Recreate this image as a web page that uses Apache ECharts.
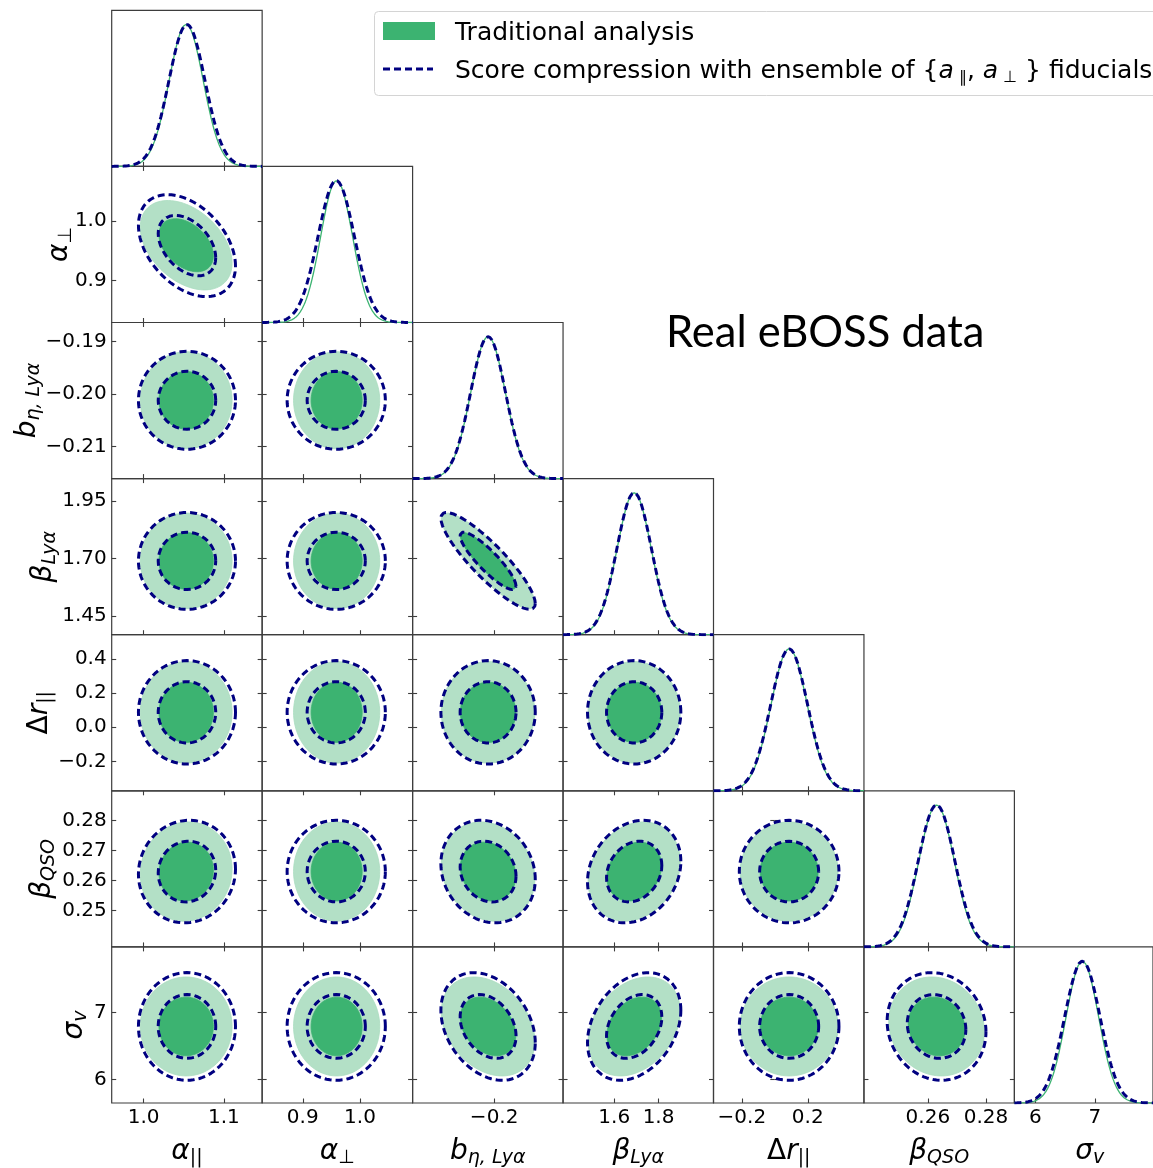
<!DOCTYPE html>
<html>
<head>
<meta charset="utf-8">
<script src="https://cdn.jsdelivr.net/npm/echarts@6/dist/echarts.min.js"></script>
<style>
html, body { margin: 0; padding: 0; background: #fff; }
#chart { width: 1153px; height: 1168px; }
</style>
</head>
<body>
<div id="chart"></div>
<script>
// parameters in plot order: alpha_par, alpha_perp, b_eta_lya, beta_lya, dr_par, beta_qso, sigma_v
var axisMin = [0.9602, 0.829, -0.2161, 1.369, -0.372, 0.238, 5.65];
var axisMax = [1.1477, 1.092, -0.1864, 2.048, 0.541, 0.2898, 7.975];
var xTicks = [[1.0, 1.1], [0.9, 1.0], [-0.2], [1.6, 1.8], [-0.2, 0.2], [0.26, 0.28], [6, 7]];
var xTickDigits = [1, 1, 1, 1, 1, 2, 0];
var yTicks = [[], [0.9, 1.0], [-0.21, -0.20, -0.19], [1.45, 1.70, 1.95], [-0.2, 0.0, 0.2, 0.4], [0.25, 0.26, 0.27, 0.28], [6, 7]];
var yTickDigits = [1, 1, 2, 2, 1, 2, 0];

// traditional analysis (posterior mean / width)
var tradMean = [1.053, 0.9592, -0.2012, 1.690, 0.087, 0.263, 6.79];
var tradSigma = [0.0212, 0.0279, 0.00342, 0.077, 0.110, 0.0061, 0.273];
// score compression with ensemble of fiducials
var scoreMean = [1.054, 0.9585, -0.2012, 1.690, 0.087, 0.263, 6.79];
var scoreSigma = [0.0224, 0.0318, 0.00345, 0.078, 0.112, 0.0063, 0.297];
// correlations, lower triangle (row param vs column param)
var corr = [
	[],
	[-0.40],
	[0.0, 0.0],
	[0.0, 0.0, -0.88],
	[0.0, 0.0, 0.0, 0.0],
	[0.05, 0.0, -0.15, 0.2, 0.0],
	[0.0, 0.0, -0.3, 0.3, 0.0, -0.1]
];
// contour radii (in sigma) of the 68% and 95% regions
var levels = [1.6, 2.7];

var xLabels = ['{m|α}{su|||}', '{m|α}{su|⊥}', '{m|b}{s|η, Lyα}', '{m|β}{s|Lyα}', '{u|Δ}{m|r}{su|||}', '{m|β}{s|QSO}', '{m|σ}{s|v}'];

// layout
var N = 7;
var panelLeft = 111.7, panelTop = 10.3, panelW = 150.45, panelH = 156.1;
var yLabelX = [0, 60, 28, 44, 40, 43, 75];
var frameColor = '#3d3d3d';
var font = 'DejaVu Sans';
var green = '#3cb371', lightGreen = '#b3e0c6', navy = '#000080';

var rich = {
	m: { fontFamily: font, fontStyle: 'italic', fontSize: 28, lineHeight: 32, color: '#000' },
	u: { fontFamily: font, fontSize: 28, lineHeight: 32, color: '#000' },
	s: { fontFamily: font, fontStyle: 'italic', fontSize: 19, lineHeight: 14, verticalAlign: 'bottom', color: '#000' },
	su: { fontFamily: font, fontSize: 19, lineHeight: 14, verticalAlign: 'bottom', color: '#000' }
};

function fmtTick(v, d) {
	return v.toFixed(d).replace('-', '\u2212');
}

function ellipse(mean, sigma, i, j, r) {
	var rho = corr[j][i];
	var pts = [];
	for (var k = 0; k <= 96; k++) {
		var t = 2 * Math.PI * k / 96;
		var u = Math.cos(t), v = Math.sin(t);
		pts.push([mean[i] + r * sigma[i] * u,
			mean[j] + r * sigma[j] * (rho * u + Math.sqrt(1 - rho * rho) * v)]);
	}
	return pts;
}

function marginal(mean, sigma, i) {
	var pts = [];
	for (var k = 0; k <= 150; k++) {
		var x = axisMin[i] + (axisMax[i] - axisMin[i]) * k / 150;
		var z = (x - mean[i]) / sigma[i];
		pts.push([x, Math.exp(-0.5 * z * z)]);
	}
	return pts;
}

function valueAxis(gi, p, ticks, digits, pos, labels) {
	return {
		type: 'value', gridIndex: gi, position: pos,
		min: axisMin[p], max: axisMax[p],
		axisLine: { show: false },
		splitLine: { show: false },
		axisTick: { show: ticks.length > 0, inside: true, length: 4.5, customValues: ticks,
			lineStyle: { color: frameColor, width: 1.1 } },
		axisLabel: { show: labels, customValues: ticks, margin: 5, fontSize: 20, fontFamily: font, color: '#000',
			formatter: function (v) { return fmtTick(v, digits); } }
	};
}

var grids = [], xAxes = [], yAxes = [], series = [], graphics = [];

for (var r = 0; r < N; r++) {
	for (var c = 0; c <= r; c++) {
		var gi = grids.length;
		grids.push({
			left: panelLeft + c * panelW, top: panelTop + r * panelH, width: panelW, height: panelH,
			show: true, borderColor: frameColor, borderWidth: 1.2, backgroundColor: 'transparent'
		});
		var xi = xAxes.length, yi = yAxes.length;
		xAxes.push(valueAxis(gi, c, xTicks[c], xTickDigits[c], 'bottom', r == N - 1));
		if (r == c) {
			yAxes.push({ type: 'value', gridIndex: gi, min: 0, max: 1.1, show: false });
			series.push({
				type: 'line', xAxisIndex: xi, yAxisIndex: yi, silent: true, showSymbol: false, z: 3,
				data: marginal(tradMean, tradSigma, c),
				lineStyle: { color: green, width: 1.3 }
			});
			series.push({
				type: 'line', xAxisIndex: xi, yAxisIndex: yi, silent: true, showSymbol: false, z: 4,
				data: marginal(scoreMean, scoreSigma, c),
				lineStyle: { color: navy, width: 3, type: [7, 4] }
			});
			continue;
		}
		xAxes.push(valueAxis(gi, c, xTicks[c], xTickDigits[c], 'top', false));
		yAxes.push(valueAxis(gi, r, yTicks[r], yTickDigits[r], 'left', c == 0));
		yAxes.push(valueAxis(gi, r, yTicks[r], yTickDigits[r], 'right', false));

		(function (outer, inner) {
			series.push({
				type: 'custom', xAxisIndex: xi, yAxisIndex: yi, silent: true, clip: true, z: 2,
				data: [inner[0]],
				renderItem: function (params, api) {
					var toPx = function (p) { return api.coord(p); };
					return { type: 'group', children: [
						{ type: 'polygon', shape: { points: outer.map(toPx) }, style: { fill: lightGreen, stroke: '#a9dcbf', lineWidth: 0.8 } },
						{ type: 'polygon', shape: { points: inner.map(toPx) }, style: { fill: green, stroke: green, lineWidth: 0.8 } }
					] };
				}
			});
		})(ellipse(tradMean, tradSigma, c, r, levels[1]), ellipse(tradMean, tradSigma, c, r, levels[0]));

		for (var l = 0; l < 2; l++) {
			series.push({
				type: 'line', xAxisIndex: xi, yAxisIndex: yi, silent: true, showSymbol: false, z: 4,
				data: ellipse(scoreMean, scoreSigma, c, r, levels[l]),
				lineStyle: { color: navy, width: 3, type: [7, 4] }
			});
		}
	}
}

// axis names
for (var p = 0; p < N; p++) {
	graphics.push({
		type: 'text', x: panelLeft + (p + 0.5) * panelW, y: 1152,
		style: { text: xLabels[p], rich: rich, align: 'center', verticalAlign: 'middle' }
	});
	if (p > 0) {
		graphics.push({
			type: 'text', x: yLabelX[p], y: panelTop + (p + 0.5) * panelH, rotation: Math.PI / 2,
			style: { text: xLabels[p], rich: rich, align: 'center', verticalAlign: 'middle' }
		});
	}
}

// legend box
graphics.push({ type: 'rect', shape: { x: 374.5, y: 11.5, width: 820, height: 84, r: 4 },
	style: { fill: 'rgba(255,255,255,0.8)', stroke: '#d4d4d4', lineWidth: 1 }, z: 10 });
graphics.push({ type: 'rect', shape: { x: 383, y: 22, width: 52, height: 18 }, style: { fill: green }, z: 11 });
graphics.push({ type: 'line', shape: { x1: 383, y1: 69, x2: 433, y2: 69 },
	style: { stroke: navy, lineWidth: 3, lineDash: [7, 4] }, z: 11 });
graphics.push({ type: 'text', x: 455, y: 33, z: 11,
	style: { text: 'Traditional analysis', fontFamily: font, fontSize: 25, fill: '#000', verticalAlign: 'middle' } });
graphics.push({ type: 'text', x: 455, y: 71, z: 11,
	style: { text: 'Score compression with ensemble of {{i|a}{b| ∥}{n|, }{i|a}{b| ⊥}{n| }} fiducials',
		fontFamily: font, fontSize: 25, fill: '#000', verticalAlign: 'middle',
		rich: {
			n: { fontFamily: font, fontSize: 25, lineHeight: 30 },
			i: { fontFamily: font, fontStyle: 'italic', fontSize: 25, lineHeight: 30 },
			b: { fontFamily: font, fontSize: 16, lineHeight: 12, verticalAlign: 'bottom' }
		} } });

graphics.push({ type: 'text', x: 666, y: 333, z: 11,
	style: { text: 'Real eBOSS data', fontFamily: 'Lato', fontSize: 43.5, fill: '#000', verticalAlign: 'middle' } });

var chart = echarts.init(document.getElementById('chart'));
chart.setOption({
	animation: false,
	backgroundColor: '#fff',
	grid: grids,
	xAxis: xAxes,
	yAxis: yAxes,
	series: series,
	graphic: graphics
});
</script>
</body>
</html>
